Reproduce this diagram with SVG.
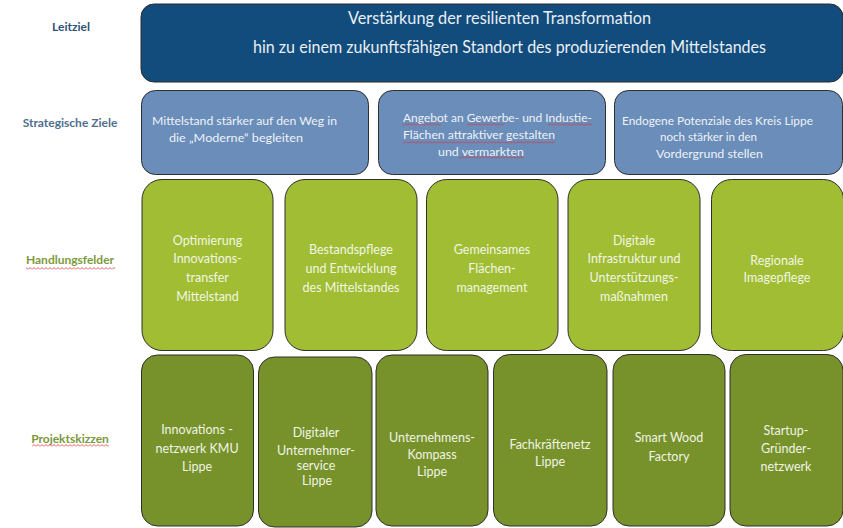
<svg xmlns="http://www.w3.org/2000/svg" width="843" height="528" viewBox="0 0 843 528">
<defs>
<style>
.lbl{font-family:Lato,"Open Sans","Liberation Sans",sans-serif;font-size:12px;font-weight:bold;text-anchor:middle}
.lead{fill:#124C7C;stroke:#2b2b2b;stroke-width:1}
.strat{fill:#6A8DBA;stroke:#2f2f2f;stroke-width:1}
.hf{fill:#A0BD33;stroke:#2f2f2f;stroke-width:1}
.pk{fill:#77922A;stroke:#2f2f2f;stroke-width:1}
.tl{font-family:Lato,"Open Sans","Liberation Sans",sans-serif;font-size:17px;fill:#E8EEF4}
.ts{font-family:Lato,"Open Sans","Liberation Sans",sans-serif;font-size:12px;fill:#EEF2F7}
.tg{font-family:Lato,"Open Sans","Liberation Sans",sans-serif;font-size:12.5px;fill:#F2F6E4;text-anchor:middle}
.tp{font-family:Lato,"Open Sans","Liberation Sans",sans-serif;font-size:12.5px;fill:#F0F3E6;text-anchor:middle}
</style>
<pattern id="wave" width="4" height="3" patternUnits="userSpaceOnUse">
<path d="M0,2.5 L2,0.5 L4,2.5" fill="none" stroke="#E0303A" stroke-width="0.8"/>
</pattern>
</defs>
<rect width="843" height="528" fill="#ffffff"/>

<g id="labels">
<text class="lbl" x="71" y="31" fill="#2F5377">Leitziel</text>
<text class="lbl" x="70" y="127" fill="#4F6E8E">Strategische Ziele</text>
<text class="lbl" x="70" y="264" fill="#7C9A3B">Handlungsfelder</text>
<rect x="26" y="267" width="89" height="3" fill="url(#wave)"/>
<text class="lbl" x="70" y="443" fill="#7A973A">Projektskizzen</text>
<rect x="32" y="444" width="77" height="3" fill="url(#wave)"/>
</g>

<g id="leitziel">
<rect class="lead" x="141" y="4" width="702" height="78" rx="13"/>
<text class="tl" x="348" y="24" textLength="303" lengthAdjust="spacingAndGlyphs">Verstärkung der resilienten Transformation</text>
<text class="tl" x="253" y="53" textLength="513" lengthAdjust="spacingAndGlyphs">hin zu einem zukunftsfähigen Standort des produzierenden Mittelstandes</text>
</g>

<g id="sz1">
<rect class="strat" x="141.5" y="90.5" width="227" height="84" rx="14"/>
<text class="ts" x="152" y="125" textLength="185" lengthAdjust="spacingAndGlyphs">Mittelstand stärker auf den Weg in</text>
<text class="ts" x="169" y="142" textLength="134" lengthAdjust="spacingAndGlyphs">die „Moderne“ begleiten</text>
</g>
<g id="sz2">
<rect class="strat" x="378.5" y="90.5" width="227" height="84" rx="14"/>
<text class="ts" x="403" y="122" textLength="189" lengthAdjust="spacingAndGlyphs">Angebot an Gewerbe- und Industie-</text>
<text class="ts" x="403" y="139" textLength="152" lengthAdjust="spacingAndGlyphs">Flächen attraktiver gestalten</text>
<text class="ts" x="438" y="156" textLength="86" lengthAdjust="spacingAndGlyphs">und vermarkten</text>
<rect x="403" y="123" width="38" height="3" fill="url(#wave)"/>
<rect x="467" y="123" width="37" height="3" fill="url(#wave)"/>
<rect x="548" y="123" width="44" height="3" fill="url(#wave)"/>
<rect x="403" y="141" width="152" height="3" fill="url(#wave)"/>
<rect x="459" y="156" width="65" height="3" fill="url(#wave)"/>
</g>
<g id="sz3">
<rect class="strat" x="614.5" y="90.5" width="228" height="84" rx="14"/>
<text class="ts" x="622" y="125" textLength="191" lengthAdjust="spacingAndGlyphs">Endogene Potenziale des Kreis Lippe</text>
<text class="ts" x="660" y="141" textLength="97" lengthAdjust="spacingAndGlyphs">noch stärker in den</text>
<text class="ts" x="656" y="158" textLength="107" lengthAdjust="spacingAndGlyphs">Vordergrund stellen</text>
</g>

<g id="hf1">
<rect class="hf" x="142" y="179.5" width="131" height="171" rx="20"/>
<text class="tg" x="207.5" y="244.5">Optimierung</text>
<text class="tg" x="207.5" y="263">Innovations-</text>
<text class="tg" x="207.5" y="281.5">transfer</text>
<text class="tg" x="207.5" y="300.5">Mittelstand</text>
</g>
<g id="hf2">
<rect class="hf" x="285" y="179.5" width="132" height="171" rx="20"/>
<text class="tg" x="351" y="253.5">Bestandspflege</text>
<text class="tg" x="351" y="272.5">und Entwicklung</text>
<text class="tg" x="351" y="291.5">des Mittelstandes</text>
</g>
<g id="hf3">
<rect class="hf" x="426.5" y="179.5" width="131.5" height="171" rx="20"/>
<text class="tg" x="492" y="253.5">Gemeinsames</text>
<text class="tg" x="492" y="272.5">Flächen-</text>
<text class="tg" x="492" y="291.5">management</text>
</g>
<g id="hf4">
<rect class="hf" x="568" y="179.5" width="132" height="171" rx="20"/>
<text class="tg" x="634" y="244.5">Digitale</text>
<text class="tg" x="634" y="263">Infrastruktur und</text>
<text class="tg" x="634" y="281.5">Unterstützungs-</text>
<text class="tg" x="634" y="300.5">maßnahmen</text>
</g>
<g id="hf5">
<rect class="hf" x="711.5" y="179.5" width="132" height="171" rx="20"/>
<text class="tg" x="777" y="264.5">Regionale</text>
<text class="tg" x="777" y="281.5">Imagepflege</text>
</g>

<g id="pk1">
<rect class="pk" x="141.5" y="355" width="112" height="171" rx="16"/>
<text class="tp" x="197" y="433.5">Innovations  -</text>
<text class="tp" x="197" y="452.5">netzwerk KMU</text>
<text class="tp" x="197" y="470.5">Lippe</text>
</g>
<g id="pk2">
<rect class="pk" x="258.5" y="357" width="113.5" height="170" rx="16"/>
<text class="tp" x="316" y="436.5">Digitaler</text>
<text class="tp" x="316" y="454.5">Unternehmer-</text>
<text class="tp" x="316" y="469.5">service</text>
<text class="tp" x="317" y="484.5">Lippe</text>
</g>
<g id="pk3">
<rect class="pk" x="376" y="355" width="112" height="171" rx="16"/>
<text class="tp" x="432" y="441.5">Unternehmens-</text>
<text class="tp" x="432" y="458.5">Kompass</text>
<text class="tp" x="432" y="475.5">Lippe</text>
</g>
<g id="pk4">
<rect class="pk" x="493.5" y="354.5" width="113.5" height="171.5" rx="16"/>
<text class="tp" x="550" y="449">Fachkräftenetz</text>
<text class="tp" x="550" y="465.5">Lippe</text>
</g>
<g id="pk5">
<rect class="pk" x="613" y="354.5" width="112" height="171.5" rx="16"/>
<text class="tp" x="669" y="441.5">Smart Wood</text>
<text class="tp" x="669" y="461">Factory</text>
</g>
<g id="pk6">
<rect class="pk" x="730" y="354.5" width="113" height="171.5" rx="16"/>
<text class="tp" x="786" y="434.5">Startup-</text>
<text class="tp" x="786" y="452.5">Gründer-</text>
<text class="tp" x="786" y="471">netzwerk</text>
</g>

<g id="connectors"></g>
</svg>
